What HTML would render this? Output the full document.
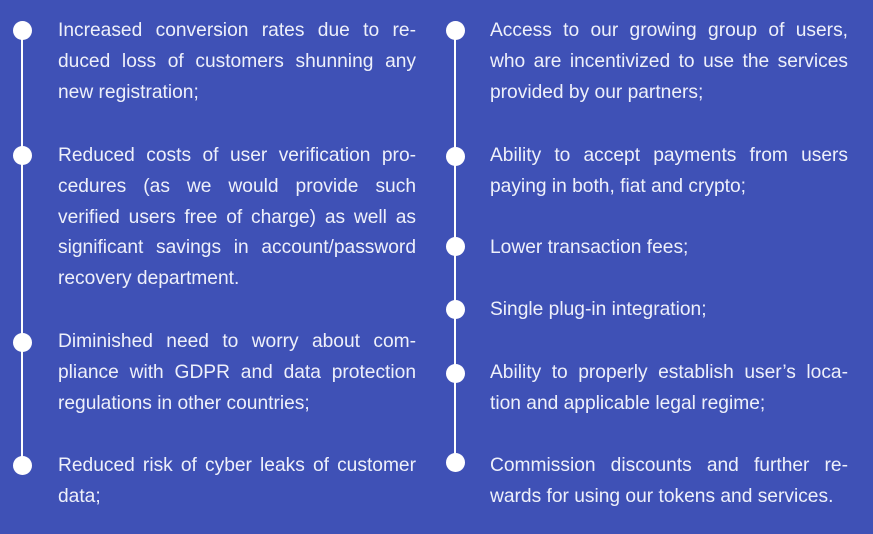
<!DOCTYPE html>
<html><head><meta charset="utf-8"><style>
html,body{margin:0;padding:0}
body{width:873px;height:534px;background:#3f51b6;position:relative;overflow:hidden;font-family:"Liberation Sans",sans-serif;color:#eef0fa}
.l{position:absolute;height:31px;line-height:31px;font-size:19.2px;white-space:nowrap;margin-top:1px}
.j{text-align:justify;text-align-last:justify;white-space:normal;overflow:hidden}
.L{left:58px;width:358px}
.R{left:490px;width:358px}
.d{position:absolute;width:19px;height:19px;border-radius:50%;background:#fff}
.v{position:absolute;width:2px;background:#fff}
</style></head><body>
<div class="v" style="left:21px;top:30px;height:435px"></div>
<div class="v" style="left:454px;top:30px;height:432px"></div>
<div class="d" style="left:12.5px;top:20.5px"></div>
<div class="d" style="left:12.5px;top:145.5px"></div>
<div class="d" style="left:12.5px;top:332.5px"></div>
<div class="d" style="left:12.5px;top:455.5px"></div>
<div class="d" style="left:445.5px;top:20.5px"></div>
<div class="d" style="left:445.5px;top:146.5px"></div>
<div class="d" style="left:445.5px;top:236.5px"></div>
<div class="d" style="left:445.5px;top:299.5px"></div>
<div class="d" style="left:445.5px;top:363.5px"></div>
<div class="d" style="left:445.5px;top:452.5px"></div>

<div class="l L j" style="top:14px">Increased conversion rates due to re-</div>
<div class="l L j" style="top:45px">duced loss of customers shunning any</div>
<div class="l L" style="top:76px">new registration;</div>

<div class="l L j" style="top:139px">Reduced costs of user verification pro-</div>
<div class="l L j" style="top:170px">cedures (as we would provide such</div>
<div class="l L j" style="top:201px">verified users free of charge) as well as</div>
<div class="l L j" style="top:231px">significant savings in account/password</div>
<div class="l L" style="top:262px">recovery department.</div>

<div class="l L j" style="top:325px">Diminished need to worry about com-</div>
<div class="l L j" style="top:356px">pliance with GDPR and data protection</div>
<div class="l L" style="top:387px">regulations in other countries;</div>

<div class="l L j" style="top:449px">Reduced risk of cyber leaks of customer</div>
<div class="l L" style="top:480px">data;</div>

<div class="l R j" style="top:14px">Access to our growing group of users,</div>
<div class="l R j" style="top:45px">who are incentivized to use the services</div>
<div class="l R" style="top:76px">provided by our partners;</div>

<div class="l R j" style="top:139px">Ability to accept payments from users</div>
<div class="l R" style="top:170px">paying in both, fiat and crypto;</div>

<div class="l R" style="top:231px">Lower transaction fees;</div>

<div class="l R" style="top:293px">Single plug-in integration;</div>

<div class="l R j" style="top:356px">Ability to properly establish user’s loca-</div>
<div class="l R" style="top:387px">tion and applicable legal regime;</div>

<div class="l R j" style="top:449px">Commission discounts and further re-</div>
<div class="l R" style="top:480px">wards for using our tokens and services.</div>
</body></html>
